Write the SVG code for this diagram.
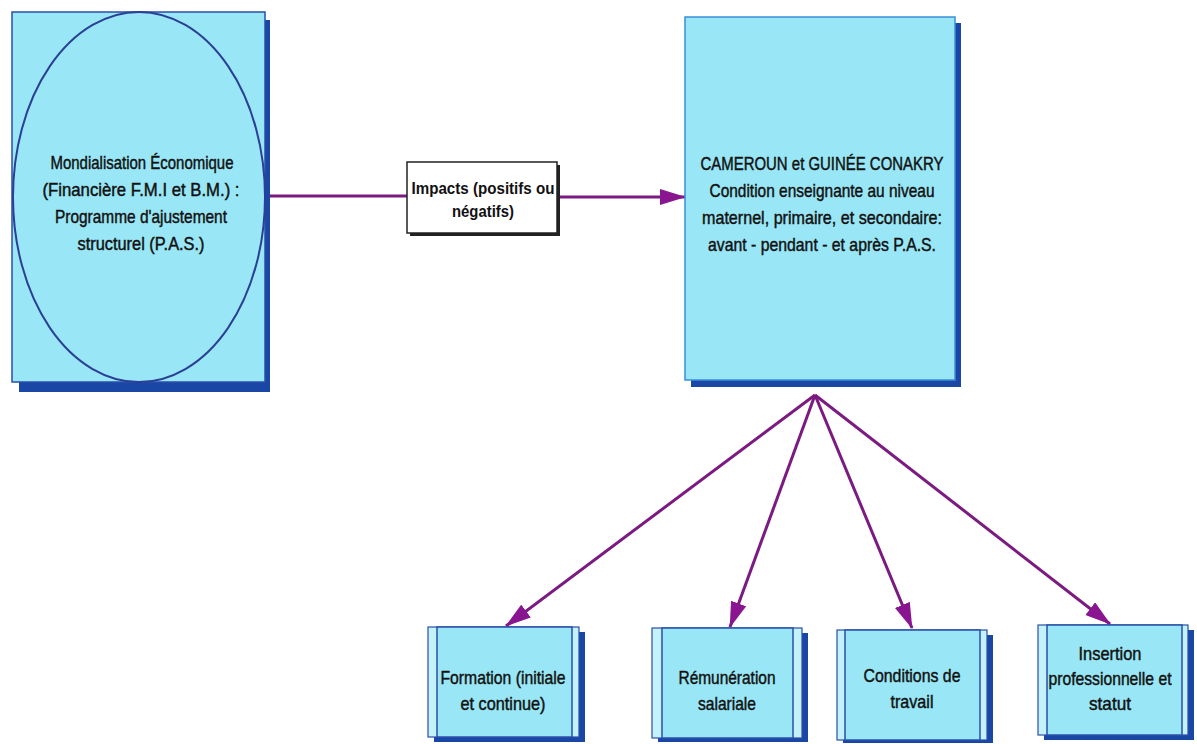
<svg xmlns="http://www.w3.org/2000/svg" width="1197" height="744" viewBox="0 0 1197 744">
<defs>
<style>
.shadow{fill:#1a47a6}
.box{fill:#99e7f6;stroke:#2a4fa8;stroke-width:1.5}
.strip{fill:#c4f2fb;stroke:#2a4fa8;stroke-width:1.2}
.t{font-family:"Liberation Sans",Arial,sans-serif;font-size:18.5px;fill:#111;text-anchor:middle;stroke:#111;stroke-width:0.45}
.ti{font-family:"Liberation Sans",Arial,sans-serif;font-size:17px;font-weight:bold;fill:#111;text-anchor:middle}
.conn{stroke:#7b1a80;stroke-width:3;fill:none}
</style>
<marker id="ah" viewBox="0 0 26 16" refX="25" refY="8" markerWidth="26" markerHeight="16" markerUnits="userSpaceOnUse" orient="auto">
<path d="M0,0 L26,8 L0,16 Z" fill="#8a1590"/>
</marker>
</defs>
<rect width="1197" height="744" fill="#ffffff"/>

<g id="connectors">
<line class="conn" x1="266" y1="196" x2="407" y2="196"/>
<line class="conn" x1="558" y1="197" x2="685" y2="197" marker-end="url(#ah)"/>
<line class="conn" x1="815" y1="395" x2="506" y2="626" marker-end="url(#ah)"/>
<line class="conn" x1="815" y1="395" x2="730" y2="627" marker-end="url(#ah)"/>
<line class="conn" x1="815" y1="395" x2="912" y2="628" marker-end="url(#ah)"/>
<line class="conn" x1="815" y1="395" x2="1110" y2="624" marker-end="url(#ah)"/>
</g>

<g id="node-mondialisation">
<rect class="shadow" x="19" y="20" width="251" height="372"/>
<rect class="box" x="12" y="12" width="253" height="370"/>
<ellipse cx="139" cy="197" rx="126" ry="185" fill="none" stroke="#2a3f95" stroke-width="2"/>
<text class="t" x="142" y="169" textLength="183" lengthAdjust="spacingAndGlyphs">Mondialisation Économique</text>
<text class="t" x="141" y="196" textLength="197" lengthAdjust="spacingAndGlyphs">(Financière F.M.I et B.M.) :</text>
<text class="t" x="141" y="223" textLength="172" lengthAdjust="spacingAndGlyphs">Programme d'ajustement</text>
<text class="t" x="141" y="250" textLength="127" lengthAdjust="spacingAndGlyphs">structurel  (P.A.S.)</text>
</g>

<g id="node-impacts">
<rect x="410" y="165" width="150" height="71" fill="#222"/>
<rect x="407" y="162" width="150" height="71" fill="#ffffff" stroke="#222" stroke-width="1.5"/>
<text class="ti" x="483" y="194" textLength="143" lengthAdjust="spacingAndGlyphs">Impacts (positifs ou</text>
<text class="ti" x="483" y="217" textLength="62" lengthAdjust="spacingAndGlyphs">négatifs)</text>
</g>

<g id="node-cameroun">
<rect class="shadow" x="691" y="23" width="270" height="364"/>
<rect class="box" x="685" y="17" width="270" height="363" style="stroke:#3a8fd8"/>
<text class="t" x="822" y="170" textLength="243" lengthAdjust="spacingAndGlyphs">CAMEROUN et GUINÉE CONAKRY</text>
<text class="t" x="822" y="197" textLength="225" lengthAdjust="spacingAndGlyphs">Condition enseignante au niveau</text>
<text class="t" x="822" y="224" textLength="240" lengthAdjust="spacingAndGlyphs">maternel, primaire, et secondaire:</text>
<text class="t" x="822" y="251" textLength="228" lengthAdjust="spacingAndGlyphs">avant - pendant - et après P.A.S.</text>
</g>

<g id="node-formation">
<rect class="shadow" x="434" y="632" width="151" height="110"/>
<rect class="strip" x="428" y="627" width="151" height="110"/>
<rect class="box" x="437" y="627" width="135" height="110"/>
<text class="t" x="503" y="684" textLength="125" lengthAdjust="spacingAndGlyphs">Formation (initiale</text>
<text class="t" x="503" y="710" textLength="85" lengthAdjust="spacingAndGlyphs">et continue)</text>
</g>

<g id="node-remuneration">
<rect class="shadow" x="658" y="633" width="150" height="109"/>
<rect class="strip" x="652" y="628" width="150" height="110"/>
<rect class="box" x="662" y="628" width="131" height="110"/>
<text class="t" x="727" y="684" textLength="97" lengthAdjust="spacingAndGlyphs">Rémunération</text>
<text class="t" x="727" y="710" textLength="58" lengthAdjust="spacingAndGlyphs">salariale</text>
</g>

<g id="node-conditions">
<rect class="shadow" x="843" y="635" width="150" height="108"/>
<rect class="strip" x="837" y="630" width="150" height="110"/>
<rect class="box" x="845" y="630" width="135" height="110"/>
<text class="t" x="912" y="682" textLength="97" lengthAdjust="spacingAndGlyphs">Conditions de</text>
<text class="t" x="912" y="708" textLength="43" lengthAdjust="spacingAndGlyphs">travail</text>
</g>

<g id="node-insertion">
<rect class="shadow" x="1044" y="630" width="150" height="110"/>
<rect class="strip" x="1038" y="625" width="150" height="110"/>
<rect class="box" x="1047" y="625" width="135" height="110"/>
<text class="t" x="1110" y="660" textLength="63" lengthAdjust="spacingAndGlyphs">Insertion</text>
<text class="t" x="1110" y="685" textLength="123" lengthAdjust="spacingAndGlyphs">professionnelle et</text>
<text class="t" x="1110" y="710" textLength="42" lengthAdjust="spacingAndGlyphs">statut</text>
</g>
</svg>
